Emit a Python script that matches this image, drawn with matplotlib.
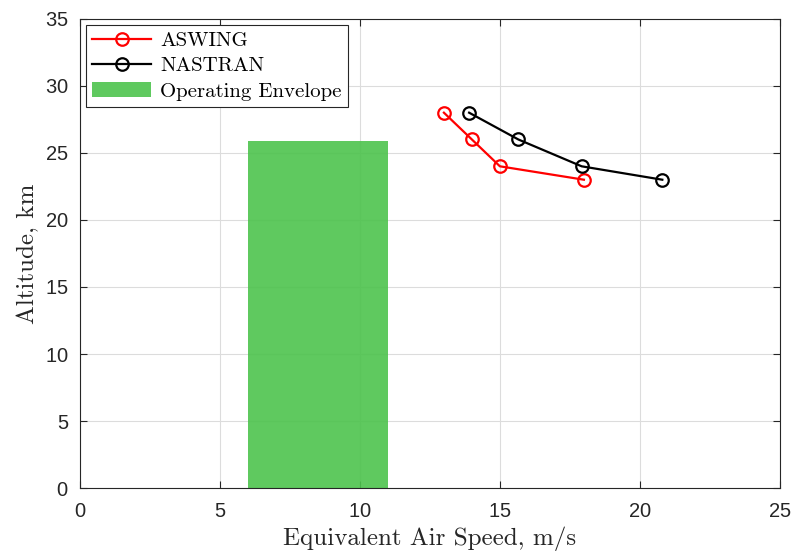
import matplotlib.pyplot as plt
from matplotlib.patches import Rectangle

aswingSpeed = [13.0, 14.0, 15.0, 18.0]
aswingAlt = [28.0, 26.0, 24.0, 23.0]
nastranSpeed = [13.9, 15.66, 17.92, 20.8]
nastranAlt = [28.0, 26.0, 24.0, 23.0]
envelopeSpeed = [6.0, 11.0]
envelopeAlt = [0.0, 25.9]

plt.rcParams['font.family'] = ['Liberation Sans', 'DejaVu Sans']
plt.rcParams['axes.formatter.use_mathtext'] = True
dark = '#262626'

fig = plt.figure(figsize=(7.91, 5.54), dpi=100)
ax = fig.add_axes([0.101, 0.119, 0.885, 0.847])

ax.plot(aswingSpeed, aswingAlt, color='red', lw=1.6, marker='o', ms=9,
        mfc='none', mew=1.6, label='ASWING', zorder=3)
ax.plot(nastranSpeed, nastranAlt, color='black', lw=1.6, marker='o', ms=9,
        mfc='none', mew=1.6, label='NASTRAN', zorder=3)
env = Rectangle((envelopeSpeed[0], envelopeAlt[0]), envelopeSpeed[1] - envelopeSpeed[0],
                envelopeAlt[1] - envelopeAlt[0], facecolor=(77/255, 195/255, 77/255),
                alpha=0.9, edgecolor='none', label='Operating Envelope', zorder=2)
ax.add_patch(env)

ax.set_xlim(0, 25)
ax.set_ylim(0, 35)
ax.set_xticks([0, 5, 10, 15, 20, 25])
ax.set_yticks([0, 5, 10, 15, 20, 25, 30, 35])
ax.grid(True, color='#dcdcdc', lw=0.8, zorder=0)
ax.set_axisbelow(True)
ax.tick_params(direction='in', top=True, right=True, labelsize=14.5, colors=dark,
               length=5, width=0.8)
ax.tick_params(axis='x', pad=10)
ax.tick_params(axis='y', pad=8)
for s in ax.spines.values():
    s.set_color(dark)
    s.set_linewidth(0.8)

ax.set_xlabel('Equivalent Air Speed, m/s', fontfamily='cmr10', fontsize=18, color=dark, labelpad=4)
ax.set_ylabel('Altitude, km', fontfamily='cmr10', fontsize=18, color=dark, labelpad=4)

leg = ax.legend(loc='upper left', prop={'family': 'cmr10', 'size': 15}, fancybox=False,
                edgecolor=dark, framealpha=1, borderaxespad=0.3, handlelength=2.8,
                handletextpad=0.45, borderpad=0.3, labelspacing=0.33)
leg.get_frame().set_linewidth(0.8)

fig.savefig('out.png', dpi=100)
